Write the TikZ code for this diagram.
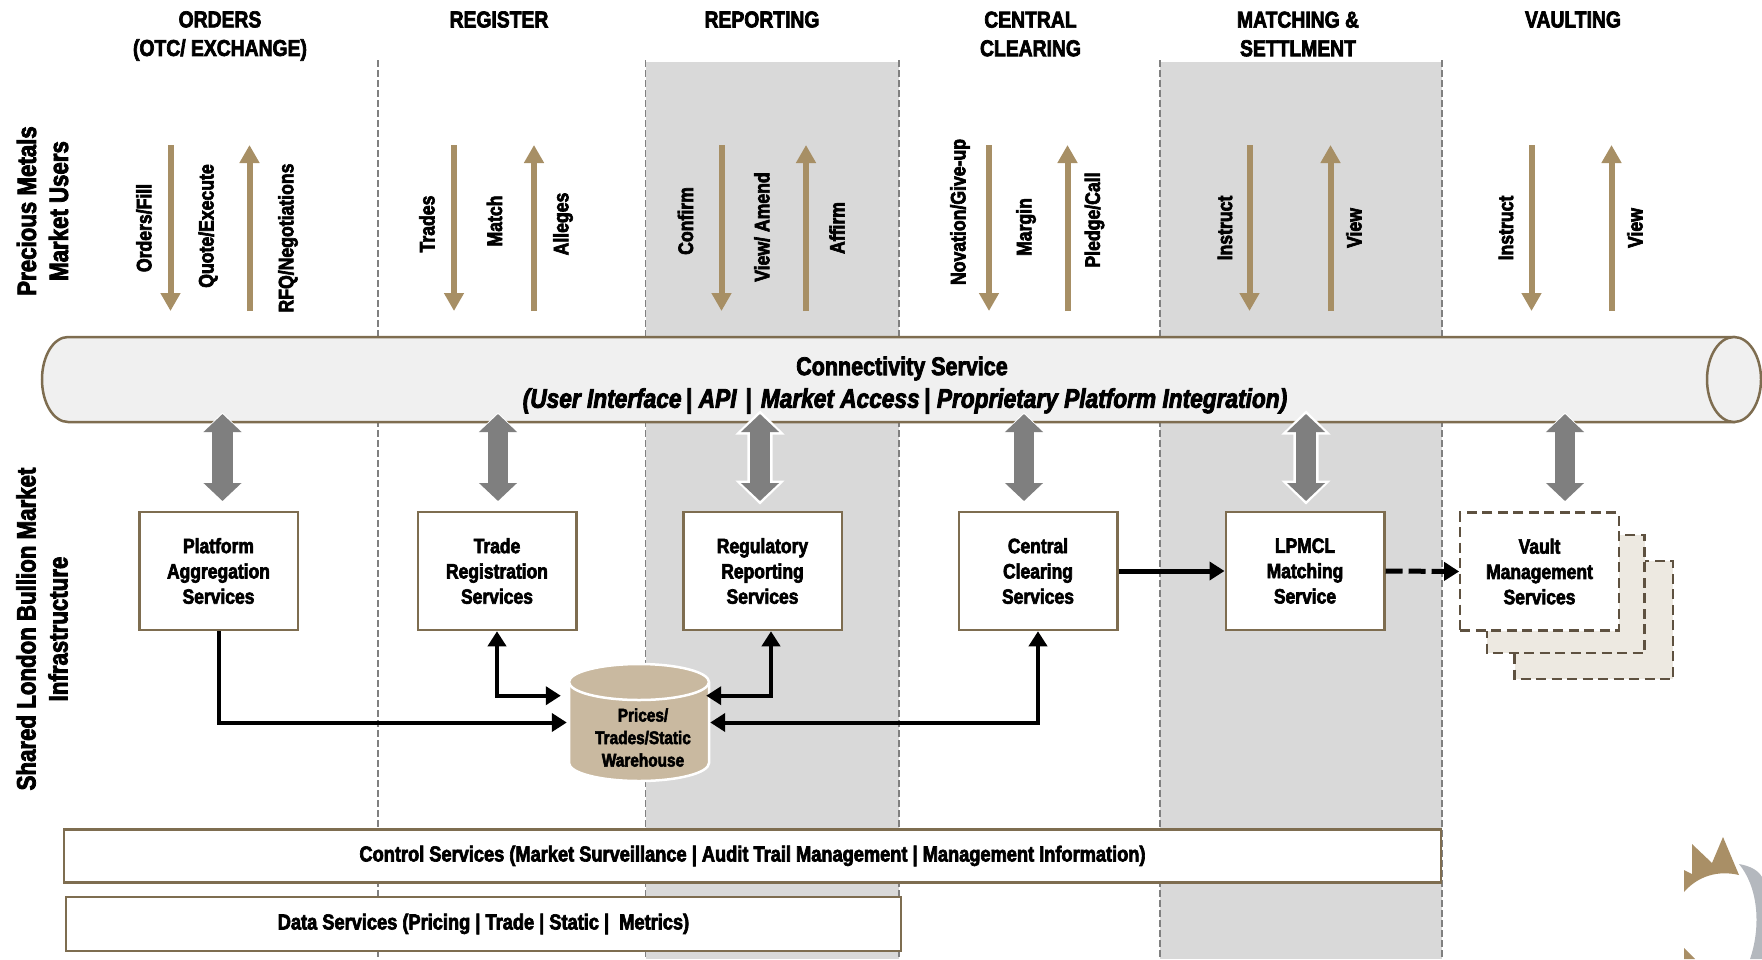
\documentclass[tikz,border=0pt]{standalone}
\usepackage{fontspec}
\setmainfont{Liberation Sans}[FakeStretch=0.84,BoldFeatures={FakeBold=3},BoldItalicFeatures={FakeBold=3}]
\usetikzlibrary{arrows.meta}
\definecolor{gold}{HTML}{A78F65}
\definecolor{brown}{HTML}{7E6D50}
\definecolor{dashbrown}{HTML}{5E5140}
\definecolor{band}{HTML}{D9D9D9}
\definecolor{divgrey}{HTML}{808080}
\definecolor{blockgrey}{HTML}{7F7F7F}
\definecolor{pipefill}{HTML}{F0F0F0}
\definecolor{cyl}{HTML}{C9B9A0}
\definecolor{stack}{HTML}{EDE9E1}
\definecolor{logogrey}{HTML}{B4B8BE}
\definecolor{logogold}{HTML}{A98F66}
\tikzset{
  bandrect/.style={fill=band,draw=none},
  divider/.style={draw=divgrey,line width=1.8pt,dash pattern=on 7pt off 3pt},
  heading/.style={font=\fontsize{23}{28.6}\selectfont\bfseries,align=center,inner sep=0pt},
  sidelabel/.style={font=\fontsize{26.5}{32}\selectfont\bfseries,align=center,rotate=90,inner sep=0pt},
  flowlabel/.style={font=\fontsize{21}{25}\selectfont\bfseries,rotate=90,inner sep=0pt},
  goldup/.style={draw=gold,line width=6pt,-{Triangle[length=18pt,width=19pt]}},
  servicebox/.style={draw=brown,fill=white,line width=2.5pt,minimum width=158.5pt,minimum height=118pt,inner sep=0pt,align=center,font=\fontsize{20.8}{25.3}\selectfont\bfseries},
  vaultbox/.style={draw=dashbrown,line width=2.2pt,dash pattern=on 10pt off 5.5pt},
  wide/.style={draw=brown,fill=white,line width=2.5pt,inner sep=0pt,font=\fontsize{21.7}{25}\selectfont\bfseries},
  block/.style={draw=blockgrey,line width=20.5pt,{Triangle[length=18pt,width=37pt]}-{Triangle[length=18pt,width=37pt]}},
  blockhalo/.style={draw=white,fill=white,line width=#1,line join=miter,miter limit=10},
  flow/.style={draw=black,line width=4pt,line join=miter,-{Triangle[length=15pt,width=18pt]}},
  flowboth/.style={draw=black,line width=4pt,{Triangle[length=15pt,width=18pt]}-{Triangle[length=15pt,width=18pt]}},
}
\begin{document}
\begin{tikzpicture}[x=1pt,y=-1pt]
\useasboundingbox (0,0) rectangle (1762,959);
% bands
\fill[bandrect] (646,62) rectangle (899,959);
\fill[bandrect] (1160,62) rectangle (1442,959);
% dividers
\foreach \x in {378,645.5,899,1160,1442}{\draw[divider] (\x,60) -- (\x,959);}
% headings
\node[heading] (h1) at (220,36) {ORDERS\\(OTC/ EXCHANGE)};
\node[heading] (h2) at (499,19.5) {REGISTER};
\node[heading] (h3) at (762,19.5) {REPORTING};
\node[heading] (h4) at (1030.5,34) {CENTRAL\\CLEARING};
\node[heading] (h5) at (1298,34) {MATCHING \&\\SETTLMENT};
\node[heading] (h6) at (1573,19.5) {VAULTING};
% side labels
\node[sidelabel] (s1) at (42.5,211) {Precious Metals\\Market Users};
\node[sidelabel] (s2) at (42,629) {Shared London Bullion Market\\Infrastructure};
% gold arrows
\foreach \n/\x in {a/170.5,b/454,c/721.5,d/989,e/1249.5,f/1531.5}{
  \coordinate (gt\n) at (\x,145); \coordinate (gb\n) at (\x,311);
  \draw[goldup] (gt\n) -- (gb\n);}
\foreach \n/\x in {a/249.5,b/534,c/806,d/1067.5,e/1330.5,f/1611.5}{
  \coordinate (ht\n) at (\x,145); \coordinate (hb\n) at (\x,311);
  \draw[goldup] (hb\n) -- (ht\n);}
% flow labels
\node[flowlabel] (l1) at (144,228) {Orders/Fill};
\node[flowlabel] (l2) at (208,226) {Quote/Execute};
\node[flowlabel] (l3) at (288,238) {RFQ/Negotiations};
\node[flowlabel] (l4) at (427,224) {Trades};
\node[flowlabel] (l5) at (494.5,221) {Match};
\node[flowlabel] (l6) at (563,224) {Alleges};
\node[flowlabel] (l7) at (685.5,221) {Confirm};
\node[flowlabel] (l8) at (762,227) {View/ Amend};
\node[flowlabel] (l9) at (837,228) {Affirm};
\node[flowlabel] (l10) at (960,212) {Novation/Give-up};
\node[flowlabel] (l11) at (1026,227) {Margin};
\node[flowlabel] (l12) at (1094.5,220) {Pledge/Call};
\node[flowlabel] (l13) at (1225,228) {Instruct};
\node[flowlabel] (l14) at (1354,228) {View};
\node[flowlabel] (l15) at (1506,228) {Instruct};
\node[flowlabel] (l16) at (1635,228) {View};
% pipe
\path[draw=brown,fill=pipefill,line width=2.5pt] (68,337) -- (1734,337) -- (1734,422) -- (68,422) .. controls (53.6,422) and (42,403) .. (42,379.5) .. controls (42,356) and (53.6,337) .. (68,337) -- cycle;
\path[draw=brown,fill=pipefill,line width=2.5pt] (1734,379.5) ellipse[x radius=27,y radius=42.5];
\node[inner sep=0pt,minimum width=1719pt,minimum height=85pt] (pipe) at (901.5,379.5) {};
\node[inner sep=0pt,font=\fontsize{25.6}{30}\selectfont\bfseries] (pipet1) at (902,368.5) {Connectivity Service};
\node[inner sep=0pt,font=\fontsize{27}{30}\selectfont\bfseries\itshape] (pipet2) at (905,401) {(User Interface{\upshape\,|} API\,\,{\upshape|}\,\,Market Access{\upshape\,|} Proprietary Platform Integration)};
% service boxes
\node[servicebox] (plat) at (218.5,571) {Platform\\Aggregation\\Services};
\node[servicebox] (trade) at (497,571) {Trade\\Registration\\Services};
\node[servicebox] (reg) at (762.5,571) {Regulatory\\Reporting\\Services};
\node[servicebox] (cent) at (1038,571) {Central\\Clearing\\Services};
\node[servicebox] (lpm) at (1305,571) {LPMCL\\Matching\\Service};
% vault stack
\fill[stack] (1514.5,561) rectangle (1673,679);
\draw[vaultbox] (1514.5,561) rectangle (1673,679);
\fill[stack] (1487,535) rectangle (1644.5,653);
\draw[vaultbox] (1487,535) rectangle (1644.5,653);
\node[servicebox,draw=dashbrown,line width=2.2pt,dash pattern=on 10pt off 5.5pt] (vault) at (1539.5,571.5) {Vault\\Management\\Services};
% block arrows
\foreach \n/\x/\h in {1/222.5/2pt,2/498/2pt,3/760/5pt,4/1024/2pt,5/1306/5pt,6/1565/2pt}{
  \coordinate (bt\n) at (\x,414); \coordinate (bb\n) at (\x,501);
  \draw[blockhalo=\h] (\x,414) -- (\x+18.5,432) -- (\x+10.2,432) -- (\x+10.2,483) -- (\x+18.5,483) -- (\x,501) -- (\x-18.5,483) -- (\x-10.2,483) -- (\x-10.2,432) -- (\x-18.5,432) -- cycle;
  \draw[block] (bt\n) -- (bb\n);}
% warehouse
\path[fill=cyl,draw=white,line width=2.5pt] (569,683) arc[start angle=180,end angle=0,x radius=70,y radius=-18] -- (709,763) arc[start angle=0,end angle=180,x radius=70,y radius=18] -- cycle;
\path[fill=cyl,draw=white,line width=2.5pt] (639,682) ellipse[x radius=70,y radius=18];
\node[inner sep=0pt,minimum width=140pt,minimum height=115pt] (wh) at (639,722.5) {};
\node[inner sep=0pt,align=center,font=\fontsize{18.3}{22.5}\selectfont\bfseries] (whtext) at (643,737.5) {Prices/\\Trades/Static\\Warehouse};
% flows
\draw[flow] (plat.south) |- ([xshift=-2pt]wh.west);
\draw[flowboth] (trade.south) |- ([xshift=-8pt,yshift=26.8pt]wh.west);
\draw[flowboth] ([xshift=8.5pt]reg.south) |- ([xshift=-3pt,yshift=26.8pt]wh.east);
\draw[flowboth] (cent.south) |- ([xshift=1pt]wh.east);
\draw[flow,line width=5pt] (cent.east) -- (lpm.west);
\draw[flow,line width=5pt,dash pattern=on 17pt off 6pt] (lpm.east) -- (vault.west);
% wide boxes
\node[wide,minimum width=1377pt,minimum height=53pt] (ctrl) at (752.5,856) {\raisebox{-1.5pt}{Control Services (Market Surveillance | Audit Trail Management | Management Information)}};
\node[wide,minimum width=835pt,minimum height=54pt] (data) at (483.5,924) {\raisebox{-1.5pt}{Data Services (Pricing | Trade | Static |\ \ Metrics)}};
% logo
\fill[logogrey] (1739,864) .. controls (1750,866) and (1758,870) .. (1762,877) -- (1762,959) -- (1750,959) .. controls (1760,930) and (1760,890) .. (1739,864) -- cycle;
\fill[logogold] (1684,870) -- (1692,874) -- (1692,844) -- (1712,863) -- (1723,837) -- (1739,875) .. controls (1718,870) and (1698,876) .. (1684,892) -- cycle;
\fill[logogold] (1684,948) -- (1695,959) -- (1684,959) -- cycle;
\end{tikzpicture}
\end{document}
